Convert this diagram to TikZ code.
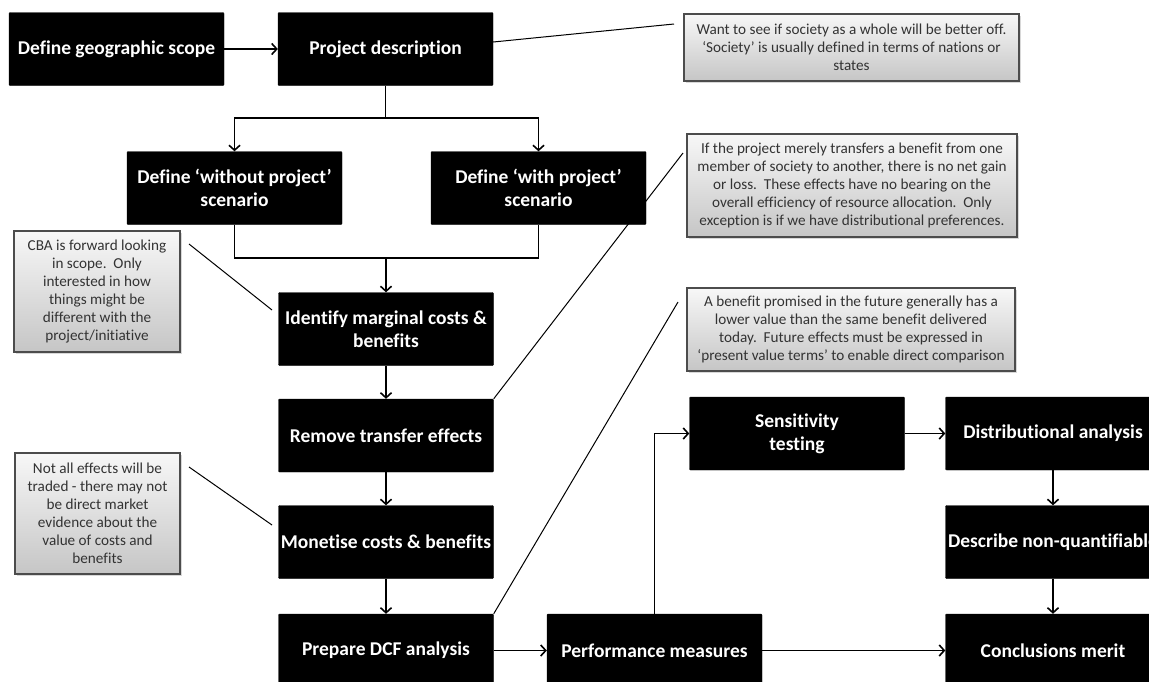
\documentclass[tikz,border=0pt]{standalone}
\usepackage{fontspec}
\setmainfont{Carlito}[Ligatures=NoCommon]
\usetikzlibrary{arrows.meta,shadows}
\begin{document}
\begin{tikzpicture}[x=1pt,y=-1pt,>={Straight Barb[length=5pt,width=11pt]}]
		\tikzstyle{BX}=[rectangle,fill=black,draw=black,rounded corners=1pt,minimum width=215pt,minimum height=73pt,inner sep=2pt,align=center,text=white,font=\fontsize{19.5}{23}\selectfont\bfseries]
		\tikzstyle{NT}=[rectangle,draw=black!70,line width=1.2pt,top color=gray!6,bottom color=gray!45,drop shadow={shadow xshift=2pt,shadow yshift=-2pt,opacity=0.3},align=center,inner sep=2pt,text=black!80,font=\fontsize{15.2}{18.1}\selectfont]
		\tikzstyle{LN}=[line width=1.6pt]
		\tikzstyle{CL}=[line width=1pt]
		\clip (0,0) rectangle (1149,681);
		\fill[white] (0,0) rectangle (1149,681);
		\begin{scope}
		\node[BX] (geo)   at (116.5,49)   {Define geographic scope};
		\node[BX] (desc)  at (385.5,49)   {Project description};
		\node[BX] (wo)    at (234.5,188)  {Define ‘without project’\\scenario};
		\node[BX] (wi)    at (538.5,188)  {Define ‘with project’\\scenario};
		\node[BX] (marg)  at (386,329)    {Identify marginal costs \&\\benefits};
		\node[BX] (trans) at (386,435.5)  {Remove transfer effects};
		\node[BX] (mon)   at (386,542)    {Monetise costs \& benefits};
		\node[BX] (dcf)   at (386,650.5)  {Prepare DCF analysis};
		\node[BX] (perf)  at (654.5,650.5) {Performance measures};
		\node[BX] (sens)  at (797,433.5)  {Sensitivity\\testing};
		\node[BX] (dist)  at (1053,433.5) {Distributional analysis};
		\node[BX] (nonq)  at (1053,542)   {Describe non-quantifiable};
		\node[BX] (concl) at (1053,650.5) {Conclusions merit};
		\end{scope}
		
		\begin{scope}
		\node[NT,minimum width=335pt,minimum height=67pt] (n-1) at (851.5,47.5)
		{Want to see if society as a whole will be better off.\\‘Society’ is usually defined in terms of nations or\\states};
		\node[NT,minimum width=330pt,minimum height=103pt] (n-2) at (852,185.5)
		{If the project merely transfers a benefit from one\\member of society to another, there is no net gain\\or loss.\ \ These effects have no bearing on the\\overall efficiency of resource allocation.\ \ Only\\exception is if we have distributional preferences.};
		\node[NT,minimum width=166pt,minimum height=121pt] (n-3) at (97,291.5)
		{CBA is forward looking\\in scope.\ \ Only\\interested in how\\things might be\\different with the\\project/initiative};
		\node[NT,minimum width=165pt,minimum height=121pt] (n-4) at (97.5,513.5)
		{Not all effects will be\\traded - there may not\\be direct market\\evidence about the\\value of costs and\\benefits};
		\node[NT,minimum width=328pt,minimum height=83pt] (n-5) at (851,329.5)
		{A benefit promised in the future generally has a\\lower value than the same benefit delivered\\today.\ \ Future effects must be expressed in\\‘present value terms’ to enable direct comparison};
		\end{scope}
		
		\coordinate (split) at (385.5,118);
		\coordinate (join)  at (386,258);
		\coordinate (t-1)   at (674,24);
		\coordinate (t-2)   at (683,153);
		\coordinate (t-3a)  at (189,244);
		\coordinate (t-3b)  at (272,310);
		\coordinate (t-4a)  at (189,467);
		\coordinate (t-4b)  at (272,525);
		\coordinate (t-5)   at (678,302);
		
		\draw[LN] (desc) -- (split);
		\draw[LN,->] (split) -| (wo);
		\draw[LN,->] (split) -| (wi);
		\draw[LN] (wo) |- (join) -| (wi);
		\draw[LN,->] (join) -- (marg);
		\draw[LN,->] (perf) |- (sens);
		
		\path[->,LN]
		(geo) edge (desc)
		(marg) edge (trans)
		(trans) edge (mon)
		(mon) edge (dcf)
		(dcf) edge (perf)
		(perf) edge (concl)
		(sens) edge (dist)
		(dist) edge (nonq)
		(nonq) edge (concl)
		;
		\path[-,CL]
		([yshift=7pt]desc.east) edge (t-1)
		(t-2) edge (trans.north east)
		(dcf.north east) edge (t-5)
		(t-3a) edge (t-3b)
		(t-4a) edge (t-4b)
		;
		
\end{tikzpicture}
\end{document}
